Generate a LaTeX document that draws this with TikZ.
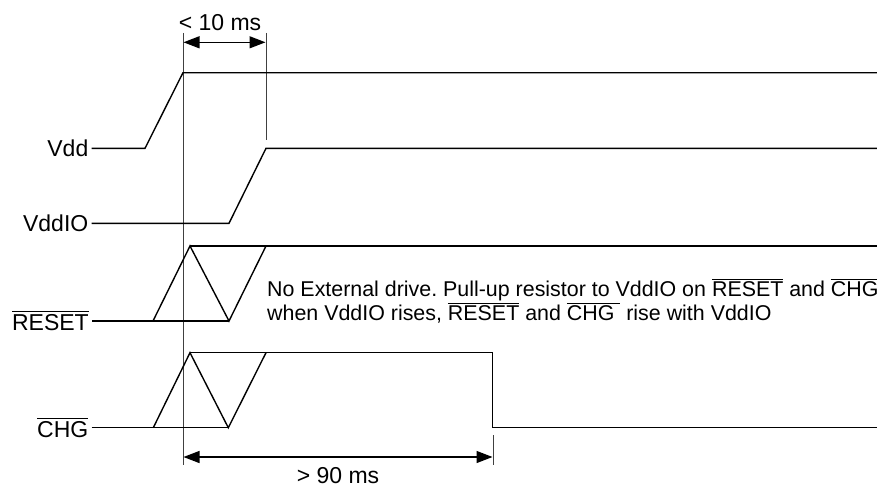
\documentclass[tikz,border=0pt]{standalone}
\usepackage{fontspec}
\setmainfont{Liberation Sans}
\usetikzlibrary{arrows.meta}
\newcommand\ovl[1]{\leavevmode\vbox{\hrule height 0.9pt\kern2.2pt\hbox{#1}}}
\frenchspacing
\begin{document}
\begin{tikzpicture}[x=1pt,y=-1pt,
  wave/.style={line width=1.4pt,line join=miter},
  guide/.style={line width=0.8pt,black!75},
  dim/.style={line width=1.3pt,{Triangle[length=16pt,width=12pt]}-{Triangle[length=16pt,width=12pt]},shorten <=0.5pt,shorten >=0.5pt},
  sig/.style={anchor=east,inner ysep=0pt,inner xsep=3pt,font=\fontsize{23}{27}\selectfont},
  tlabel/.style={inner sep=0pt,font=\fontsize{23}{27}\selectfont},
  note/.style={anchor=base west,inner sep=0pt,font=\fontsize{21.4}{24}\selectfont}]
\useasboundingbox (0,0) rectangle (877,487);
\coordinate (a0) at (183,33);
\coordinate (a1) at (183,465);
\coordinate (b0) at (266,33);
\coordinate (b1) at (266,140);
\coordinate (c0) at (493,435);
\coordinate (c1) at (493,465);
\draw [guide] (a0) -- (a1);
\draw [guide] (b0) -- (b1);
\draw [guide] (c0) -- (c1);
\draw [dim] (183,42.3) -- (266,42.3);
\draw [dim] (183,457) -- (493,457);
\node [tlabel] (tup) at (220,22.5) {< 10 ms};
\node [tlabel] (tdown) at (338,476) {> 90 ms};
\node [sig] (vdd) at (91.5,148.3) {Vdd};
\node [sig] (vddio) at (91.5,223.3) {VddIO};
\node [sig] (reset) at (92,321) {\ovl{RESET}};
\node [sig] (chg) at (91.5,427.7) {\ovl{CHG}};
\draw [wave] (vdd.east) -- (145,148.3) -- (183,72.7) -- (877,72.7);
\draw [wave] (vddio.east) -- (229,223.3) -- (266,148.3) -- (877,148.3);
\draw [wave] (reset.east) -- (229,321);
\draw [wave] (153,321) -- (190,246) -- (229,321) -- (266,246);
\draw [wave] (190,246) -- (877,246);
\draw [wave] (chg.east) -- (228.3,427.7);
\draw [wave] (153.3,427.7) -- (190,352.7) -- (228.3,427.7) -- (266,352.7);
\draw [wave] (190,352.7) -- (492.7,352.7) -- (492.7,427.7) -- (877,427.7);
\node [note] (note1) at (267,296.7) {No External drive. Pull-up resistor to VddIO on \ovl{RESET} and \ovl{CHG}};
\node [note] (note2) at (267,320.7) {when VddIO rises, \ovl{RESET} and \ovl{CHG\ } rise with VddIO};
\end{tikzpicture}
\end{document}
